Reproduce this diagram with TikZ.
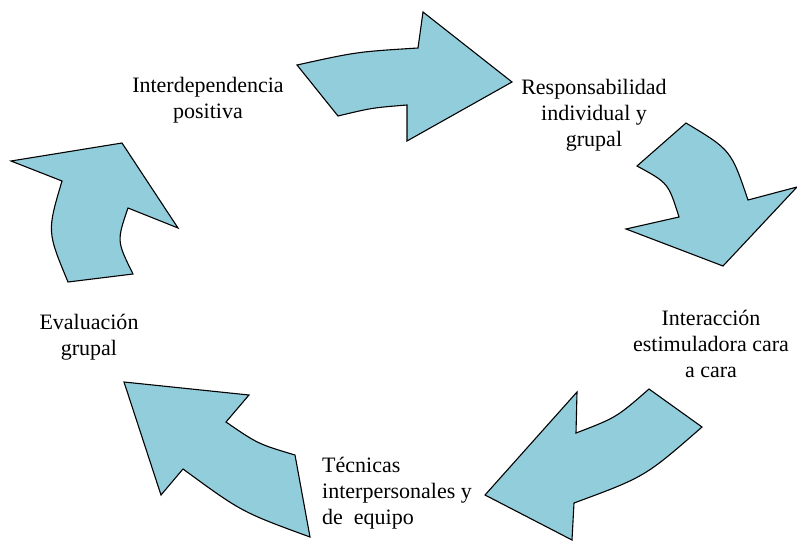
\documentclass[tikz,border=0pt]{standalone}
\usepackage{fontspec}
\setmainfont{Liberation Serif}
\definecolor{arrowfill}{RGB}{146,205,220}
\tikzset{
  cyclearrow/.style={fill=arrowfill, draw=black, line width=1.1pt, line join=miter},
  lbl/.style={font=\fontsize{22}{26}\selectfont, inner sep=0pt, anchor=base},
}
\begin{document}
\begin{tikzpicture}[x=1pt,y=-1pt]
\useasboundingbox (0,0) rectangle (797,541);
% arrow 1 (top)
\path[cyclearrow] (297,65) .. controls (356.8,51.8) .. (418,48) -- (423,12) -- (512,82) -- (407,141) -- (407,105)
  .. controls (372.1,107.8) .. (338,116) -- cycle;
% arrow 2 (right top)
\path[cyclearrow] (686,123) .. controls (731,150) .. (748,200) -- (797,187) -- (723,266) -- (626,229) -- (679,217)
  .. controls (668.3,183) .. (637,166) -- cycle;
% arrow 3 (bottom right)
\path[cyclearrow] (649,389) -- (702,427) .. controls (645,476.8) .. (574,503) -- (572,540) -- (485,495) -- (577,392) -- (576,433)
  .. controls (616.4,417.5) .. (649,389) -- cycle;
% arrow 4 (bottom left)
\path[cyclearrow] (310,537) -- (295,455) .. controls (257.9,443.9) .. (226,422) -- (249,395) -- (124,382) -- (161,495) -- (183,469)
  .. controls (241.7,512) .. (310,537) -- cycle;
% arrow 5 (left)
\path[cyclearrow] (68,282) -- (133,274) .. controls (116.7,241) .. (128,208) -- (178,228) -- (122,143) -- (11,161) -- (62,181)
  .. controls (47,231.5) .. (68,282) -- cycle;
% labels (base anchor = baseline of last line)
\node[lbl, align=center] (interdep) at (208,118) {Interdependencia\\positiva};
\node[lbl, align=center] (respons) at (594,146) {Responsabilidad\\individual y\\grupal};
\node[lbl, align=center] (interac) at (711,377) {Interacción\\estimuladora cara\\a cara};
\node[lbl, align=left, anchor=base west] (tecnicas) at (322,524) {Técnicas\\interpersonales y\\de \ equipo};
\node[lbl, align=center] (evalua) at (89,355) {Evaluación\\grupal};
\end{tikzpicture}
\end{document}
